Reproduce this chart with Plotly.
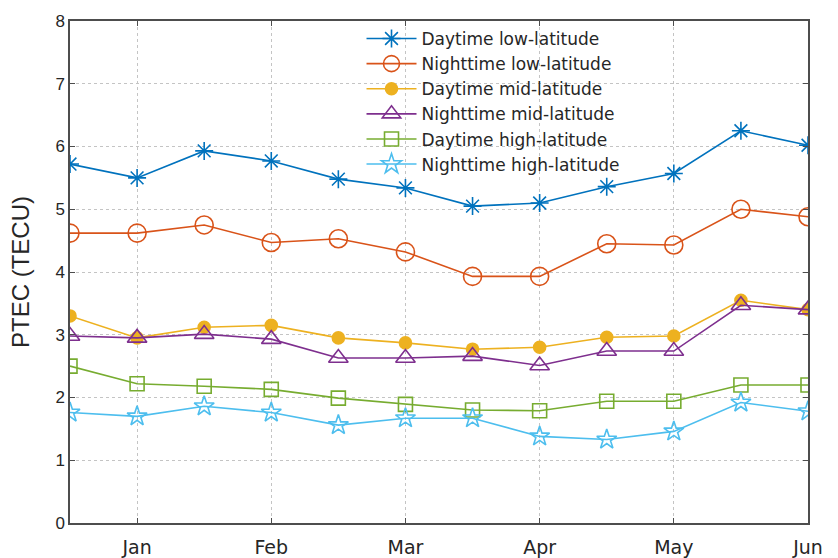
import plotly.graph_objects as go

# Half-month sampling positions (1 = Jan ... 6 = Jun)
x_pos = [0.5, 1, 1.5, 2, 2.5, 3, 3.5, 4, 4.5, 5, 5.5, 6]
month_ticks = [1, 2, 3, 4, 5, 6]
month_labels = ["Jan", "Feb", "Mar", "Apr", "May", "Jun"]

day_low = [5.72, 5.50, 5.93, 5.77, 5.48, 5.34, 5.05, 5.10, 5.36, 5.57, 6.25, 6.02]
night_low = [4.62, 4.62, 4.75, 4.47, 4.53, 4.32, 3.93, 3.93, 4.45, 4.43, 5.00, 4.88]
day_mid = [3.30, 2.95, 3.12, 3.15, 2.95, 2.87, 2.77, 2.80, 2.96, 2.98, 3.55, 3.40]
night_mid = [2.98, 2.95, 3.01, 2.93, 2.63, 2.63, 2.66, 2.51, 2.74, 2.74, 3.47, 3.40]
day_high = [2.50, 2.22, 2.18, 2.13, 1.99, 1.89, 1.80, 1.79, 1.94, 1.94, 2.20, 2.20]
night_high = [1.76, 1.70, 1.86, 1.76, 1.56, 1.67, 1.67, 1.38, 1.33, 1.46, 1.92, 1.78]

series = [
    ("Daytime low-latitude", day_low, "#0072BD", "asterisk-open", 15),
    ("Nighttime low-latitude", night_low, "#D95319", "circle-open", 18),
    ("Daytime mid-latitude", day_mid, "#EDB120", "circle", 12),
    ("Nighttime mid-latitude", night_mid, "#7E2F8E", "triangle-up-open", 17),
    ("Daytime high-latitude", day_high, "#77AC30", "square-open", 14),
    ("Nighttime high-latitude", night_high, "#4DBEEE", "star-open", 15),
]

TEXT = "#262626"
SANS = "Liberation Sans, Arial, sans-serif"
WIDE = "DejaVu Sans, Verdana, sans-serif"

fig = go.Figure()
for name, vals, color, symbol, size in series:
    fig.add_trace(go.Scatter(
        x=x_pos, y=vals, name=name, mode="lines+markers",
        line=dict(color=color, width=1.6),
        marker=dict(symbol=symbol, size=size, color=color,
                    line=dict(color=color, width=1.6)),
    ))

axis_common = dict(
    showline=True, linecolor="#4d4d4d", linewidth=1.5, mirror="ticks",
    ticks="inside", ticklen=5, tickcolor="#4d4d4d",
    showgrid=True, gridcolor="#c4c4c4", griddash="dot", gridwidth=1,
    zeroline=False, automargin=False,
)

fig.update_xaxes(range=[0.5, 6], tickvals=month_ticks, ticktext=month_labels,
                 tickfont=dict(family=WIDE, size=19, color=TEXT),
                 ticklabelstandoff=6, **axis_common)
fig.update_yaxes(range=[0, 8], dtick=1,
                 tickfont=dict(family=SANS, size=17, color=TEXT),
                 title=dict(text="PTEC (TECU)", standoff=19,
                            font=dict(family=SANS, size=24, color=TEXT)),
                 **axis_common)

# Blank panel behind the legend: hides the grid there while keeping the traces visible
fig.add_shape(type="rect", xref="paper", yref="paper",
              x0=0.386, x1=0.78, y0=0.693, y1=1.0,
              fillcolor="white", line_width=0, layer="between")

fig.update_layout(
    width=838, height=558,
    margin=dict(l=70, r=30, t=21, b=35),
    paper_bgcolor="white", plot_bgcolor="white",
    font=dict(family=SANS, size=17, color=TEXT),
    legend=dict(x=0.395, y=1.0, xanchor="left", yanchor="top",
                bgcolor="rgba(255,255,255,0)", borderwidth=0, itemwidth=50,
                font=dict(family=WIDE, size=17, color=TEXT), tracegroupgap=0),
    showlegend=True,
)

fig.write_html("out.html")
